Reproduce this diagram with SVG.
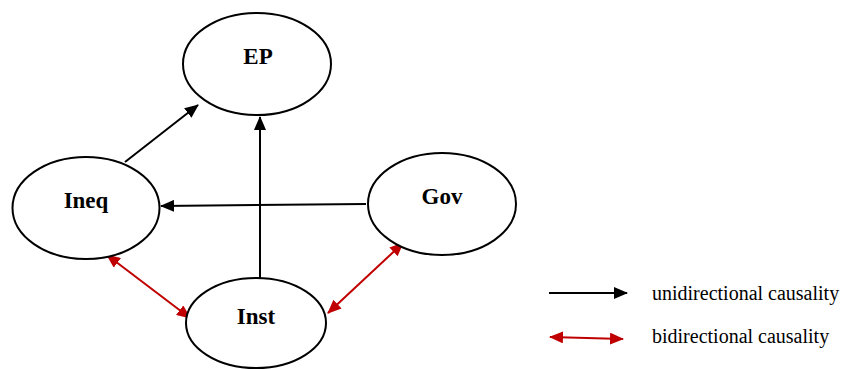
<svg xmlns="http://www.w3.org/2000/svg" width="850" height="369" viewBox="0 0 850 369">
<style>
.node{fill:#fff;stroke:#000;stroke-width:2}
.lbl{font-family:"Liberation Serif","Times New Roman",serif;font-weight:bold;font-size:23px;text-anchor:middle;fill:#000}
.uni{stroke:#000;stroke-width:2;fill:none;marker-end:url(#ab)}
.bi{stroke:#C00000;stroke-width:2;fill:none;marker-end:url(#ar);marker-start:url(#ar)}
.leg{font-family:"Liberation Serif","Times New Roman",serif;font-size:20px;fill:#000}
</style>
<defs>
<marker id="ab" markerUnits="userSpaceOnUse" markerWidth="14" markerHeight="12" refX="13" refY="6" orient="auto-start-reverse" viewBox="0 0 14 12"><path d="M0,0 L14,6 L0,12 z" fill="#000"/></marker>
<marker id="ar" markerUnits="userSpaceOnUse" markerWidth="14" markerHeight="12" refX="13" refY="6" orient="auto-start-reverse" viewBox="0 0 14 12"><path d="M0,0 L14,6 L0,12 z" fill="#C00000"/></marker>
</defs>
<rect width="850" height="369" fill="#fff"/>
<g id="edges">
<line class="uni" x1="125" y1="162" x2="198" y2="105"/>
<line class="uni" x1="260" y1="278" x2="260" y2="117"/>
<line class="uni" x1="366" y1="204" x2="161" y2="206"/>
<line class="bi" x1="107" y1="255" x2="190" y2="318"/>
<line class="bi" x1="403" y1="243" x2="328" y2="313"/>
</g>
<g id="EP"><ellipse class="node" cx="257" cy="64" rx="74" ry="51"/><text class="lbl" x="258" y="64">EP</text></g>
<g id="Ineq"><ellipse class="node" cx="86" cy="208" rx="73.5" ry="51"/><text class="lbl" x="86" y="208">Ineq</text></g>
<g id="Gov"><ellipse class="node" cx="442" cy="204" rx="74" ry="51"/><text class="lbl" x="442" y="204">Gov</text></g>
<g id="Inst"><ellipse class="node" cx="256" cy="323" rx="70" ry="45"/><text class="lbl" x="256" y="324">Inst</text></g>
<g id="legend">
<line class="uni" x1="549" y1="293" x2="627" y2="293"/>
<text class="leg" x="652" y="300">unidirectional causality</text>
<line class="bi" x1="550" y1="337" x2="623" y2="339"/>
<text class="leg" x="652" y="343">bidirectional causality</text>
</g>
</svg>
